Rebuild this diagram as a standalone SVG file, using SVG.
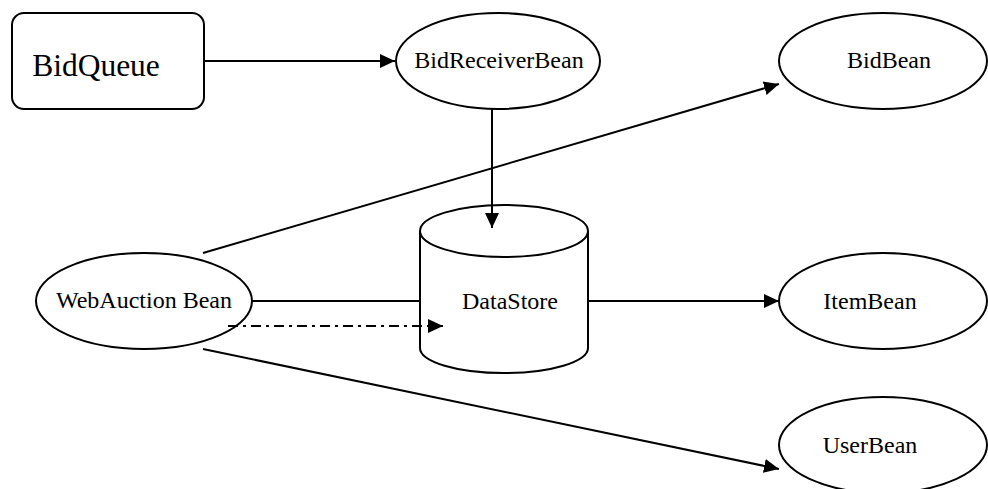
<svg xmlns="http://www.w3.org/2000/svg" width="988" height="489" viewBox="0 0 988 489">
<defs>
<style>
.shape{fill:#fff;stroke:#000;stroke-width:2}
.edge{fill:none;stroke:#000;stroke-width:2}
.lbl{font-family:"Liberation Serif","Times New Roman",serif;font-size:24px;fill:#000;text-anchor:middle}
</style>
<marker id="arr" markerUnits="userSpaceOnUse" markerWidth="16" markerHeight="16" viewBox="0 0 16 16" refX="15" refY="8" orient="auto">
<path d="M0,1 L15,8 L0,15 Z" fill="#000"/>
</marker>
</defs>
<rect width="988" height="489" fill="#fff"/>
<g id="BidQueue">
<rect class="shape" x="12" y="13" width="192" height="96" rx="12"/>
<text x="96" y="76" class="lbl" style="font-size:31.5px">BidQueue</text>
</g>
<g id="BidReceiverBean">
<ellipse class="shape" cx="498" cy="61" rx="102" ry="48"/>
<text x="499" y="68" class="lbl">BidReceiverBean</text>
</g>
<g id="BidBean">
<ellipse class="shape" cx="883" cy="61" rx="104" ry="48"/>
<text x="889" y="68" class="lbl">BidBean</text>
</g>
<g id="DataStore">
<path class="shape" d="M420,231 L420,348 A84,25 0 0 0 588,348 L588,231"/>
<ellipse class="shape" cx="504" cy="231" rx="84" ry="26"/>
<text x="510" y="309" class="lbl">DataStore</text>
</g>
<g id="WebAuctionBean">
<ellipse class="shape" cx="144" cy="301" rx="108" ry="48"/>
<text x="144" y="308" class="lbl">WebAuction Bean</text>
</g>
<g id="ItemBean">
<ellipse class="shape" cx="883" cy="301" rx="104" ry="48"/>
<text x="870" y="309" class="lbl">ItemBean</text>
</g>
<g id="UserBean">
<ellipse class="shape" cx="883" cy="445" rx="104" ry="48"/>
<text x="870" y="453" class="lbl">UserBean</text>
</g>
<g id="connectors">
<line class="edge" x1="204" y1="61" x2="395" y2="61" marker-end="url(#arr)"/>
<line class="edge" x1="492" y1="109" x2="492" y2="228" marker-end="url(#arr)"/>
<line class="edge" x1="203" y1="253" x2="779" y2="84" marker-end="url(#arr)"/>
<line class="edge" x1="252" y1="301" x2="420" y2="301"/>
<line class="edge" x1="228" y1="326" x2="443" y2="326" stroke-dasharray="10 5 3 5" marker-end="url(#arr)"/>
<line class="edge" x1="588" y1="301" x2="779" y2="301" marker-end="url(#arr)"/>
<line class="edge" x1="203" y1="349" x2="779" y2="469" marker-end="url(#arr)"/>
</g>
</svg>
